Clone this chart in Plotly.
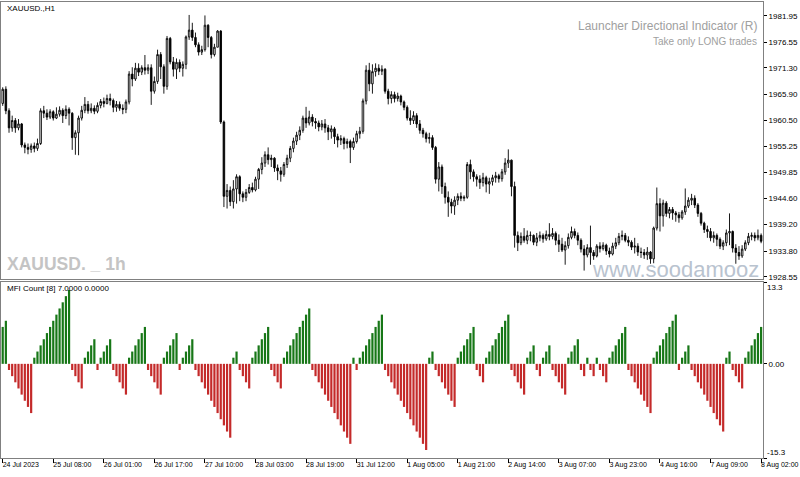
import plotly.graph_objects as go

closes = [1966.9,1962.5,1959.0,1960.5,1959.0,1959.8,1955.5,1955.0,1954.6,1955.3,
1954.8,1955.8,1962.5,1962.0,1961.2,1962.3,1961.0,1961.8,1962.6,1961.5,
1962.8,1962.0,1957.0,1958.0,1961.0,1962.6,1963.8,1962.5,1963.0,1962.4,
1963.6,1964.4,1964.0,1965.0,1964.6,1963.2,1963.8,1963.0,1962.8,1964.3,
1970.0,1969.0,1971.2,1970.4,1971.3,1970.8,1971.3,1966.5,1968.5,1974.0,
1971.5,1967.5,1977.3,1972.5,1971.0,1972.4,1971.2,1972.0,1977.6,1979.0,
1977.5,1976.0,1974.5,1975.0,1980.0,1977.5,1974.0,1975.5,1978.8,1960.2,
1945.0,1946.2,1943.9,1946.5,1949.0,1945.5,1944.8,1945.8,1946.8,1946.3,
1948.5,1950.5,1951.8,1953.5,1952.5,1952.8,1950.8,1950.2,1949.5,1951.5,
1952.8,1954.8,1956.3,1957.5,1958.5,1961.0,1960.0,1961.2,1960.3,1960.0,
1959.2,1959.8,1959.0,1958.2,1958.8,1957.2,1956.5,1956.8,1955.8,1956.2,
1955.0,1956.2,1957.8,1958.3,1964.5,1970.8,1968.0,1970.5,1971.2,1970.6,
1971.0,1966.5,1965.0,1965.8,1965.0,1965.5,1964.3,1963.2,1961.0,1960.5,
1961.5,1959.8,1958.5,1957.8,1956.8,1957.0,1955.0,1948.5,1951.0,1947.0,
1944.8,1943.8,1943.0,1944.2,1945.0,1944.6,1944.8,1951.5,1950.0,1949.0,
1948.5,1947.8,1948.8,1947.5,1948.0,1948.8,1949.2,1948.6,1950.0,1951.8,
1952.4,1947.0,1937.0,1935.5,1936.8,1936.0,1937.0,1937.0,1935.6,1936.5,
1937.0,1936.3,1937.2,1936.8,1937.4,1936.0,1935.2,1934.0,1934.9,1936.6,
1937.8,1937.0,1936.0,1934.2,1933.0,1934.5,1933.5,1932.8,1934.8,1934.3,
1935.0,1933.8,1933.2,1934.8,1935.5,1936.8,1937.0,1936.0,1935.6,1934.6,
1934.8,1933.6,1933.5,1933.0,1933.6,1932.2,1938.5,1943.5,1941.0,1943.6,
1941.5,1942.3,1941.6,1941.2,1940.6,1941.8,1943.0,1944.2,1944.6,1943.2,
1941.5,1939.5,1938.2,1937.8,1936.5,1937.0,1936.2,1934.8,1935.5,1937.5,
1937.8,1934.4,1933.5,1932.8,1934.2,1935.5,1936.8,1937.0,1936.5,1937.0,
1935.8]

opens = [1964.0,1966.9,1962.5,1959.0,1960.5,1959.0,1959.8,1955.5,1955.0,1954.6,
1955.3,1954.8,1955.8,1962.5,1962.0,1961.2,1962.3,1961.0,1961.8,1962.6,
1961.5,1962.8,1962.0,1957.0,1958.0,1961.0,1962.6,1963.8,1962.5,1963.0,
1962.4,1963.6,1964.4,1964.0,1965.0,1964.6,1963.2,1963.8,1963.0,1962.8,
1964.3,1970.0,1969.0,1971.2,1970.4,1971.3,1970.8,1971.3,1966.5,1968.5,
1974.0,1971.5,1967.5,1977.3,1972.5,1971.0,1972.4,1971.2,1972.0,1977.6,
1979.0,1977.5,1976.0,1974.5,1975.0,1980.0,1977.5,1974.0,1975.5,1978.8,
1960.2,1945.0,1946.2,1943.9,1946.5,1949.0,1945.5,1944.8,1945.8,1946.8,
1946.3,1948.5,1950.5,1951.8,1953.5,1952.5,1952.8,1950.8,1950.2,1949.5,
1951.5,1952.8,1954.8,1956.3,1957.5,1958.5,1961.0,1960.0,1961.2,1960.3,
1960.0,1959.2,1959.8,1959.0,1958.2,1958.8,1957.2,1956.5,1956.8,1955.8,
1956.2,1955.0,1956.2,1957.8,1958.3,1964.5,1970.8,1968.0,1970.5,1971.2,
1970.6,1971.0,1966.5,1965.0,1965.8,1965.0,1965.5,1964.3,1963.2,1961.0,
1960.5,1961.5,1959.8,1958.5,1957.8,1956.8,1957.0,1955.0,1948.5,1951.0,
1947.0,1944.8,1943.8,1943.0,1944.2,1945.0,1944.6,1944.8,1951.5,1950.0,
1949.0,1948.5,1947.8,1948.8,1947.5,1948.0,1948.8,1949.2,1948.6,1950.0,
1951.8,1952.4,1947.0,1937.0,1935.5,1936.8,1936.0,1937.0,1937.0,1935.6,
1936.5,1937.0,1936.3,1937.2,1936.8,1937.4,1936.0,1935.2,1934.0,1934.9,
1936.6,1937.8,1937.0,1936.0,1934.2,1933.0,1934.5,1933.5,1932.8,1934.8,
1934.3,1935.0,1933.8,1933.2,1934.8,1935.5,1936.8,1937.0,1936.0,1935.6,
1934.6,1934.8,1933.6,1933.5,1933.0,1933.6,1932.2,1938.5,1943.5,1941.0,
1943.6,1941.5,1942.3,1941.6,1941.2,1940.6,1941.8,1943.0,1944.2,1944.6,
1943.2,1941.5,1939.5,1938.2,1937.8,1936.5,1937.0,1936.2,1934.8,1935.5,
1937.5,1937.8,1934.4,1933.5,1932.8,1934.2,1935.5,1936.8,1937.0,1936.5,
1937.0]

highs = [1967.3,1967.5,1963.0,1961.5,1961.0,1960.8,1960.0,1956.0,1955.8,1955.8,
1956.0,1956.8,1963.0,1963.5,1962.8,1962.8,1962.6,1963.2,1963.4,1963.0,
1963.6,1963.2,1962.2,1958.5,1961.5,1963.5,1965.3,1964.5,1964.0,1963.6,
1964.2,1964.9,1965.2,1965.8,1966.0,1965.0,1964.5,1964.4,1963.8,1964.8,
1970.6,1971.4,1972.3,1972.2,1971.8,1973.9,1972.0,1972.0,1969.5,1975.0,
1974.5,1972.0,1977.8,1977.6,1973.5,1973.2,1973.0,1972.6,1977.9,1982.1,
1980.5,1978.5,1976.5,1975.8,1982.0,1980.2,1977.8,1976.2,1979.0,1979.0,
1960.5,1947.5,1947.0,1948.3,1949.5,1949.3,1946.0,1946.5,1947.5,1947.8,
1949.0,1950.8,1953.0,1954.2,1955.0,1953.5,1953.0,1951.5,1951.0,1952.0,
1953.5,1955.3,1957.0,1958.2,1959.3,1961.5,1963.3,1962.5,1961.8,1961.0,
1960.5,1960.6,1960.8,1959.6,1959.5,1959.2,1957.8,1957.5,1957.2,1956.8,
1956.6,1957.0,1958.4,1959.2,1965.0,1971.8,1972.3,1972.0,1972.2,1972.0,
1971.8,1971.2,1967.0,1966.5,1966.4,1966.2,1965.8,1964.6,1963.6,1962.6,
1962.4,1962.0,1960.6,1959.0,1958.2,1958.0,1957.5,1955.3,1952.0,1951.5,
1947.8,1946.0,1944.5,1945.0,1945.6,1945.8,1945.2,1952.0,1952.5,1950.5,
1949.5,1949.3,1949.8,1949.2,1948.8,1949.4,1950.0,1949.6,1950.6,1952.8,
1954.6,1952.5,1948.0,1937.8,1937.6,1938.5,1938.0,1937.8,1937.2,1937.5,
1937.8,1937.4,1938.0,1939.5,1938.5,1937.8,1937.2,1936.5,1935.8,1937.4,
1938.8,1938.4,1937.6,1936.4,1935.0,1935.2,1939.0,1934.0,1935.2,1935.6,
1935.6,1935.3,1934.5,1935.5,1936.5,1937.5,1938.0,1937.5,1936.8,1936.0,
1936.5,1935.4,1934.5,1934.2,1934.6,1933.8,1938.8,1946.8,1944.6,1944.3,
1944.0,1942.8,1942.8,1942.0,1941.8,1942.2,1946.6,1944.8,1945.5,1945.2,
1943.6,1941.8,1939.8,1939.0,1938.5,1937.8,1937.4,1936.6,1936.0,1938.2,
1941.5,1938.0,1935.2,1934.8,1935.0,1936.0,1937.5,1937.6,1937.6,1938.2,
1937.4]

lows = [1963.5,1961.8,1958.0,1958.2,1958.0,1958.5,1955.0,1953.8,1953.6,1953.9,
1954.0,1954.3,1955.5,1961.0,1960.6,1960.8,1960.5,1960.8,1961.3,1960.0,
1960.8,1959.5,1954.5,1953.5,1953.4,1960.5,1962.0,1961.9,1962.0,1961.8,
1962.0,1963.0,1963.2,1963.8,1963.6,1962.2,1962.3,1962.5,1961.8,1962.0,
1963.8,1967.5,1968.6,1969.6,1969.8,1969.9,1970.0,1963.7,1966.0,1968.0,
1969.0,1966.0,1966.8,1972.0,1969.5,1969.0,1970.4,1969.5,1971.0,1977.0,
1976.8,1975.5,1973.8,1973.9,1974.6,1975.5,1973.2,1973.6,1975.5,1959.8,
1942.8,1942.5,1943.0,1942.5,1943.5,1944.0,1943.8,1944.0,1945.5,1945.8,
1946.0,1946.5,1949.5,1951.0,1951.5,1951.0,1950.0,1948.3,1948.0,1949.0,
1950.8,1952.0,1954.0,1955.5,1956.5,1958.0,1959.0,1959.5,1959.3,1958.8,
1958.3,1958.5,1958.0,1956.5,1956.8,1955.7,1955.0,1955.5,1954.6,1954.8,
1951.8,1954.5,1955.8,1956.8,1957.8,1963.8,1966.5,1966.0,1969.5,1969.8,
1969.8,1966.0,1963.8,1964.0,1964.2,1964.4,1963.6,1962.6,1960.5,1959.6,
1959.8,1959.0,1957.8,1957.0,1956.0,1955.8,1954.5,1947.6,1946.0,1945.5,
1943.5,1940.8,1941.5,1941.2,1943.2,1944.0,1944.0,1944.5,1948.5,1948.0,
1947.0,1946.5,1947.0,1945.8,1945.5,1947.2,1947.8,1947.8,1948.0,1949.4,
1950.8,1945.0,1934.5,1933.8,1935.0,1935.5,1935.2,1935.8,1935.0,1934.8,
1935.8,1935.5,1935.9,1936.0,1936.2,1935.0,1933.6,1933.6,1931.0,1934.3,
1936.2,1936.4,1935.0,1933.5,1929.8,1932.5,1931.0,1932.0,1932.5,1933.5,
1933.9,1933.0,1932.5,1932.9,1934.2,1935.0,1936.0,1935.6,1934.8,1934.0,
1933.3,1932.8,1932.4,1932.2,1932.0,1931.2,1931.3,1938.0,1937.8,1938.8,
1940.8,1940.5,1940.2,1939.8,1939.6,1940.2,1941.2,1942.6,1943.2,1942.6,
1940.8,1939.0,1937.5,1936.5,1935.8,1935.5,1934.8,1934.2,1934.0,1934.8,
1935.0,1933.5,1931.2,1932.0,1932.4,1933.8,1935.0,1936.0,1935.8,1936.0,
1935.4]

mfi = [6,7,
-1,-2,-3,-4,-5,-6,-7,-8,
1,2,3,4,5,6,7,8,9,10,11,12,
-1,-2,-3,-4,
1,2,3,4,
-1,
1,2,3,4,
-1,-2,-3,-4,-5,
1,2,3,4,5,6,
-1,-2,-3,-4,-5,
1,2,3,4,5,
-1,
1,2,3,4,
-1,-2,-3,-4,-5,-6,-7,-8,-9,-10,-11,-12,
1,2,
-1,-2,-3,-4,
1,2,3,4,5,6,
-1,-2,-3,-4,
1,2,3,4,5,6,7,8,9,
-1,-2,-3,-4,-5,-6,-7,-8,-9,-10,-11,-12,-13,
1,
-1,
1,2,3,4,5,6,7,8,
-1,-2,-3,-4,-5,-6,-7,-8,-9,-10,-11,-12,-13,-14,
1,2,
-1,-2,-3,-4,-5,-6,-7,
1,2,3,4,5,6,
-1,-2,-3,
1,2,3,4,5,6,7,8,
-1,-2,-3,-4,-5,
1,2,3,
-1,-2,
1,2,3,
-1,-2,-3,-4,-5,
1,2,3,4,
-1,-2,
1,
-1,-2,
1,
-1,-2,-3,
1,2,3,4,5,6,
-1,-2,-3,-4,-5,-6,-7,-8,
1,2,3,4,5,6,7,8,
-1,
1,2,3,
-1,-2,-3,-4,-5,-6,-7,-8,-9,-10,-11,
1,2,
-1,-2,-3,-4,
1,2,3,4,5,6]

time_tick_pos = [0,16,32,48,64,80,96,112,128,144,160,176,192,208,224,240]
time_tick_text = ["24 Jul 2023","25 Jul 08:00","26 Jul 01:00","26 Jul 17:00","27 Jul 10:00",
                  "28 Jul 03:00","28 Jul 19:00","31 Jul 12:00","1 Aug 05:00","1 Aug 21:00",
                  "2 Aug 14:00","3 Aug 07:00","3 Aug 23:00","4 Aug 16:00","7 Aug 09:00","8 Aug 02:00"]
price_ticks = [1928.55,1933.80,1939.20,1944.60,1949.85,1955.25,1960.50,1965.90,1971.30,1976.55,1981.95]
mfi_top, mfi_zero, mfi_bottom = 13.3, 0.0, -15.3
mfi_tick_text = ["13.3", "0.00", "-15.3"]

W, H = 800, 477
FONT = "Liberation Sans, Arial, sans-serif"
idx_c = list(range(len(closes)))
idx_m = list(range(len(mfi)))
bar_colors = ["#177717" if v > 0 else "#c42a2a" for v in mfi]

fig = go.Figure()
fig.add_trace(go.Candlestick(
    x=idx_c, open=opens, high=highs, low=lows, close=closes,
    xaxis="x", yaxis="y", whiskerwidth=0,
    increasing=dict(line=dict(color="#000000", width=0.9), fillcolor="#ffffff"),
    decreasing=dict(line=dict(color="#000000", width=0.9), fillcolor="#000000"),
    showlegend=False, hoverinfo="skip"))
fig.add_trace(go.Bar(x=idx_m, y=mfi, xaxis="x2", yaxis="y2",
                     marker=dict(color=bar_colors, line=dict(width=0)),
                     showlegend=False, hoverinfo="skip"))
# empty helper traces so the label-only overlay axes get drawn
fig.add_trace(go.Scatter(x=[], y=[], xaxis="x2", yaxis="y3", showlegend=False, hoverinfo="skip"))
fig.add_trace(go.Scatter(x=[], y=[], xaxis="x2", yaxis="y4", showlegend=False, hoverinfo="skip"))

def px(x):
    return x / W

def py(y):
    return 1 - y / H

xrange = [-0.54, 240.6]
xdom = [px(1), px(763)]
mdom = [py(458), py(282)]
mrange = [mfi_bottom, mfi_top]
axis_line = "#808080"
small = dict(family=FONT, size=8, color="#000000")
fig.update_layout(
    width=W, height=H, margin=dict(l=0, r=0, t=0, b=0),
    paper_bgcolor="#ffffff", plot_bgcolor="#ffffff",
    showlegend=False, bargap=0.3, boxgap=0.3,
    font=small,
    xaxis=dict(domain=xdom, range=xrange, anchor="y", showticklabels=False,
               showgrid=False, zeroline=False, showline=True, mirror=True,
               linecolor=axis_line, linewidth=1, ticks="", rangeslider=dict(visible=False),
               automargin=False),
    xaxis2=dict(domain=xdom, range=xrange, anchor="y2", matches="x",
                tickmode="array", tickvals=time_tick_pos, ticktext=time_tick_text,
                ticks="outside", ticklen=4, tickcolor="#000000", ticklabelposition="outside right",
                ticklabeloverflow="allow", ticklabelshift=-1,
                tickfont=dict(family=FONT, size=7, color="#000000"),
                showgrid=False, zeroline=False, showline=True, mirror=True,
                linecolor=axis_line, linewidth=1, automargin=False),
    yaxis=dict(domain=[py(279), py(2)], range=[1928.08, 1984.75], side="right",
               tickmode="array", tickvals=price_ticks, ticktext=[f"{v:.2f}" for v in price_ticks],
               ticks="outside", ticklen=3, tickcolor="#000000", tickfont=small,
               showgrid=False, zeroline=False, showline=True, mirror=True,
               linecolor=axis_line, linewidth=1, automargin=False),
    yaxis2=dict(domain=mdom, range=mrange, side="right", anchor="x2",
                tickmode="array", tickvals=[mfi_top, mfi_zero, mfi_bottom],
                ticktext=["", mfi_tick_text[1], ""],
                ticks="outside", ticklen=3, tickcolor="#000000", tickfont=small,
                showgrid=False, zeroline=False, showline=True, mirror=True,
                linecolor=axis_line, linewidth=1, automargin=False),
    yaxis3=dict(domain=mdom, range=mrange, side="right", anchor="x2", overlaying="y2",
                tickmode="array", tickvals=[mfi_top], ticktext=[mfi_tick_text[0]],
                ticks="", ticklabelposition="outside bottom", ticklabelstandoff=3, tickfont=small,
                showgrid=False, zeroline=False, showline=False, automargin=False),
    yaxis4=dict(domain=mdom, range=mrange, side="right", anchor="x2", overlaying="y2",
                tickmode="array", tickvals=[mfi_bottom], ticktext=[mfi_tick_text[2]],
                ticks="", ticklabelposition="outside top", ticklabelstandoff=3, tickfont=small,
                showgrid=False, zeroline=False, showline=False, automargin=False),
)

ann = [
    dict(text="XAUUSD.,H1", x=px(5), y=py(8.5), xanchor="left", yanchor="middle",
         font=dict(family=FONT, size=8, color="#000000")),
    dict(text="Launcher Directional Indicator (R)", x=px(759), y=py(26), xanchor="right", yanchor="middle",
         font=dict(family=FONT, size=12, color="#a0a0a0")),
    dict(text="Take only LONG trades", x=px(759), y=py(41), xanchor="right", yanchor="middle",
         font=dict(family=FONT, size=10, color="#a0a0a0")),
    dict(text="<b>XAUUSD. _ 1h</b>", x=px(5), y=py(264), xanchor="left", yanchor="middle",
         font=dict(family=FONT, size=17.5, color="#c4c4c4")),
    dict(text="www.soodamooz", x=px(761), y=py(269), xanchor="right", yanchor="middle",
         font=dict(family=FONT, size=22, color="#b9c3cf")),
    dict(text="MFI Count [8] 7.0000 0.0000", x=px(5), y=py(288), xanchor="left", yanchor="middle",
         font=dict(family=FONT, size=8, color="#000000")),
]
for a in ann:
    a.update(xref="paper", yref="paper", showarrow=False)
fig.update_layout(annotations=ann)

fig.write_html("out.html")
